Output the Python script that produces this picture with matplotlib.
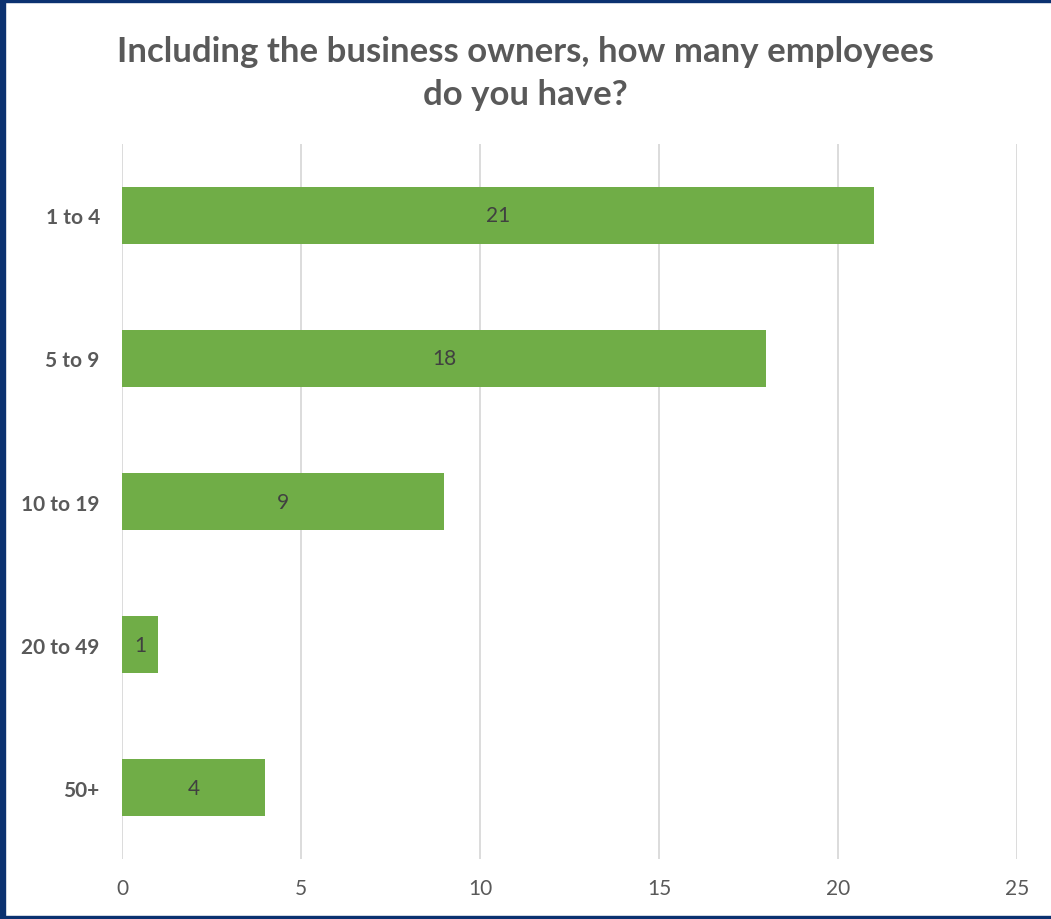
import matplotlib.pyplot as plt
from matplotlib.patches import Rectangle

categories = ['1 to 4', '5 to 9', '10 to 19', '20 to 49', '50+']
counts = [21, 18, 9, 1, 4]
x_ticks = [0, 5, 10, 15, 20, 25]

plt.rcParams['font.family'] = ['Lato', 'DejaVu Sans']

fig = plt.figure(figsize=(10.51, 9.2), dpi=100)
ax = fig.add_axes([0.1161, 0.0652, 0.8515, 0.7772])

pos = list(range(len(categories)))
bars = ax.barh(pos, counts, height=0.4, color='#70AD47', zorder=3)

# value labels centred in each bar
for b, v in zip(bars, counts):
    ax.text(b.get_width() / 2, b.get_y() + b.get_height() / 2, str(v),
            ha='center', va='center', fontsize=15, color='#404040', zorder=4)

ax.set_xlim(0, 25)
ax.set_ylim(len(categories) - 0.5, -0.5)
ax.set_xticks(x_ticks)
ax.set_yticks(pos)
ax.set_yticklabels(categories, fontsize=15, fontweight='bold', color='#595959')
ax.tick_params(axis='x', labelsize=15, labelcolor='#595959', length=0, pad=14)
ax.tick_params(axis='y', length=0, pad=16)
ax.grid(axis='x', color='#D9D9D9', linewidth=1.3, zorder=0)
for s in ax.spines.values():
    s.set_visible(False)

fig.text(0.5, 0.961, 'Including the business owners, how many employees\ndo you have?',
         ha='center', va='top', fontsize=25, fontweight='bold', color='#595959',
         linespacing=1.42)

# dark blue frame on left, top and bottom edges
navy = '#0B3170'
fig.patches.append(Rectangle((0, 0), 5 / 1051, 1, transform=fig.transFigure, color=navy))
fig.patches.append(Rectangle((0, 1 - 3 / 920), 1, 3 / 920, transform=fig.transFigure, color=navy))
fig.patches.append(Rectangle((0, 0), 1, 3 / 920, transform=fig.transFigure, color=navy))

fig.savefig('out.png', dpi=100)
